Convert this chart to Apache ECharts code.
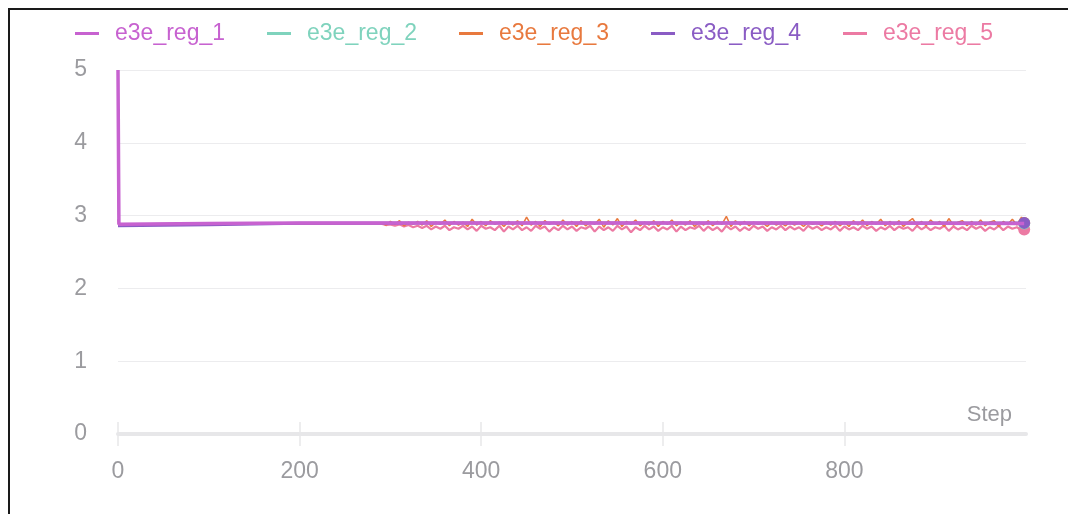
<!DOCTYPE html>
<html>
<head>
<meta charset="utf-8">
<script src="https://cdn.jsdelivr.net/npm/echarts@6/dist/echarts.min.js"></script>
<style>
  html, body { margin: 0; padding: 0; background: #ffffff; }
  #chart { width: 1068px; height: 514px; }
</style>
</head>
<body>
<div id="chart"></div>
<script>
// ---- data ----
const seriesNames = ['e3e_reg_1', 'e3e_reg_2', 'e3e_reg_3', 'e3e_reg_4', 'e3e_reg_5'];
const xTicks = [0, 200, 400, 600, 800];
const yTicks = [0, 1, 2, 3, 4, 5];

// smooth series (sparsely logged)
const smoothSteps = [0, 1, 100, 200, 400, 600, 800, 998];
const reg1 = [5.00, 2.88, 2.89, 2.90, 2.90, 2.90, 2.90, 2.89];
const reg2 = [3.30, 2.88, 2.89, 2.90, 2.90, 2.90, 2.90, 2.89];
const reg4 = [2.86, 2.855, 2.875, 2.895, 2.90, 2.90, 2.90, 2.90];

// noisy series: head part then every 5 steps from 290 to 995, then 998
const noisyHeadSteps = [0, 1, 100, 200];
const reg3Head = [3.45, 2.88, 2.89, 2.89];
const reg5Head = [2.95, 2.88, 2.89, 2.89];
const noisyStart = 290, noisyEnd = 995, noisyStride = 5, lastStep = 998;

const reg3Tail = [
  2.90,2.87,2.92,2.88,2.93,2.86,2.91,2.88,2.92,2.87,
  2.93,2.85,2.91,2.88,2.94,2.86,2.92,2.87,2.91,2.85,
  2.95,2.87,2.92,2.86,2.93,2.88,2.91,2.85,2.92,2.87,
  2.93,2.86,2.98,2.87,2.92,2.85,2.93,2.88,2.91,2.86,
  2.94,2.87,2.92,2.85,2.93,2.86,2.91,2.88,2.95,2.84,
  2.93,2.87,2.96,2.85,2.92,2.88,2.94,2.86,2.91,2.87,
  2.93,2.85,2.92,2.88,2.94,2.86,2.91,2.87,2.93,2.85,
  2.91,2.87,2.93,2.86,2.92,2.88,2.99,2.85,2.93,2.87,
  2.92,2.86,2.91,2.88,2.90,2.85,2.91,2.87,2.90,2.86,
  2.91,2.87,2.90,2.85,2.91,2.88,2.90,2.86,2.91,2.87,
  2.92,2.86,2.91,2.85,2.93,2.87,2.94,2.86,2.92,2.88,
  2.95,2.86,2.92,2.87,2.93,2.85,2.91,2.96,2.87,2.92,
  2.86,2.94,2.88,2.92,2.85,2.96,2.87,2.91,2.93,2.86,
  2.92,2.87,2.94,2.86,2.91,2.93,2.85,2.92,2.88,2.95,
  2.87,2.98,
  2.90
];
const reg5Tail = [
  2.89,2.87,2.88,2.86,2.88,2.85,2.87,2.84,2.86,2.83,
  2.86,2.81,2.85,2.82,2.86,2.80,2.84,2.82,2.86,2.81,
  2.85,2.79,2.86,2.82,2.84,2.80,2.86,2.78,2.85,2.81,
  2.86,2.80,2.84,2.79,2.86,2.82,2.85,2.78,2.84,2.80,
  2.86,2.81,2.85,2.79,2.84,2.82,2.86,2.78,2.85,2.80,
  2.84,2.79,2.86,2.81,2.85,2.77,2.84,2.80,2.86,2.81,
  2.85,2.79,2.84,2.81,2.86,2.78,2.85,2.80,2.84,2.82,
  2.86,2.79,2.85,2.80,2.84,2.78,2.86,2.81,2.85,2.79,
  2.84,2.80,2.86,2.82,2.85,2.79,2.84,2.81,2.86,2.80,
  2.85,2.81,2.84,2.79,2.86,2.82,2.85,2.80,2.84,2.81,
  2.86,2.79,2.85,2.81,2.84,2.80,2.86,2.82,2.85,2.79,
  2.84,2.81,2.86,2.80,2.85,2.82,2.84,2.79,2.86,2.81,
  2.85,2.80,2.84,2.82,2.86,2.79,2.85,2.81,2.84,2.80,
  2.86,2.82,2.85,2.79,2.84,2.81,2.86,2.80,2.85,2.82,
  2.84,2.80,
  2.81
];

const colors = ['#c762d0', '#7fd3bd', '#e8793e', '#8a5cc4', '#ec7aa3'];

// ---- build ----
const tailSteps = [];
for (let s = noisyStart; s <= noisyEnd; s += noisyStride) tailSteps.push(s);
tailSteps.push(lastStep);
const noisySteps = noisyHeadSteps.concat(tailSteps);

function pairs(xs, ys, endDot) {
  return xs.map((x, i) => {
    const item = { value: [x, ys[i]] };
    if (endDot && i === xs.length - 1) {
      item.symbol = 'circle';
      item.symbolSize = 12;
    }
    return item;
  });
}

const seriesData = [
  pairs(smoothSteps, reg1, false),
  pairs(smoothSteps, reg2, true),
  pairs(noisySteps, reg3Head.concat(reg3Tail), true),
  pairs(smoothSteps, reg4, true),
  pairs(noisySteps, reg5Head.concat(reg5Tail), true)
];
const widths = [3.5, 2, 1.5, 3, 2.2];
const zs = [6, 4, 3, 5, 2];

const font = '"Liberation Sans", Arial, Helvetica, sans-serif';
const gray = '#9b9b9f';

const chart = echarts.init(document.getElementById('chart'), null, { renderer: 'canvas' });
chart.setOption({
  backgroundColor: '#ffffff',
  animation: false,
  textStyle: { fontFamily: font },
  color: colors,
  legend: {
    top: 17,
    left: 'center',
    icon: 'rect',
    itemWidth: 24,
    itemHeight: 3,
    itemGap: 42,
    data: seriesNames.map((n, i) => ({ name: n, textStyle: { color: colors[i] } })),
    textStyle: { fontSize: 23, fontFamily: font, padding: [0, 0, 0, 11] }
  },
  grid: { left: 118, right: 42, top: 70, bottom: 80, containLabel: false },
  xAxis: [{
    type: 'value',
    min: 0, max: 1000, interval: 200,
    name: 'Step',
    nameLocation: 'end',
    nameGap: -14,
    nameTextStyle: { color: gray, fontSize: 22, align: 'right', verticalAlign: 'bottom', padding: [0, 0, 8, 0] },
    axisLine: { show: true, onZero: false, lineStyle: { color: '#e7e7e9', width: 4 } },
    axisTick: { show: true, length: 12, customValues: xTicks, lineStyle: { color: '#e7e7e9', width: 1.5 } },
    axisLabel: { color: gray, fontSize: 23, margin: 26, customValues: xTicks },
    splitLine: { show: false }
  }, {
    type: 'value',
    position: 'bottom',
    min: 0, max: 1000, interval: 200,
    axisLine: { show: false },
    axisTick: { show: true, inside: true, length: 12, customValues: xTicks, lineStyle: { color: '#e7e7e9', width: 1.5 } },
    axisLabel: { show: false },
    splitLine: { show: false }
  }],
  yAxis: {
    type: 'value',
    min: yTicks[0], max: yTicks[yTicks.length - 1], interval: 1,
    axisLine: { show: false },
    axisTick: { show: false },
    axisLabel: { color: gray, fontSize: 23, margin: 31 },
    splitLine: { lineStyle: { color: '#ececee', width: 1 } }
  },
  graphic: [
    { type: 'line', shape: { x1: 9, y1: 9, x2: 9, y2: 514 }, style: { stroke: '#1a1a1a', lineWidth: 2 }, z: 100 },
    { type: 'line', shape: { x1: 8, y1: 9, x2: 1068, y2: 9 }, style: { stroke: '#1a1a1a', lineWidth: 2 }, z: 100 }
  ],
  series: seriesNames.map((n, i) => ({
    name: n,
    type: 'line',
    xAxisIndex: 0,
    data: seriesData[i],
    symbol: 'none',
    showSymbol: true,
    z: zs[i],
    lineStyle: { width: widths[i], color: colors[i] },
    itemStyle: { color: colors[i] },
    emphasis: { disabled: true }
  }))
});
</script>
</body>
</html>
